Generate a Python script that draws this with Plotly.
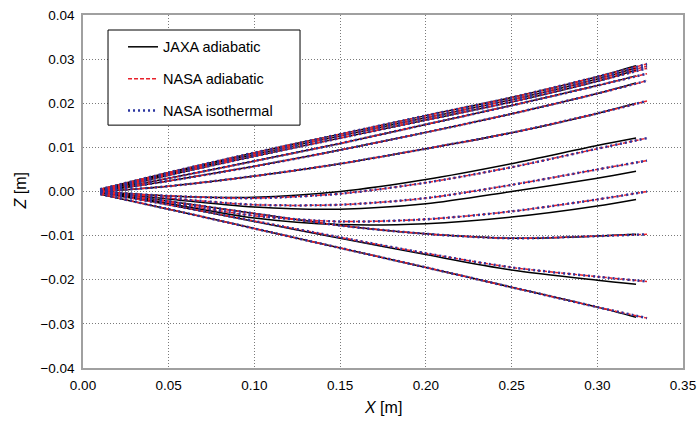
import plotly.graph_objects as go

# Axial stations [m] at which the trajectories are sampled
x_nasa = [0.01, 0.05, 0.10, 0.15, 0.20, 0.25, 0.30, 0.329]
x_jaxa = [0.01, 0.05, 0.10, 0.15, 0.20, 0.25, 0.30, 0.3226]

# Vertical position Z [m] of each trajectory, NASA adiabatic
nasa_adiabatic_z = [
    [0.0005, 0.0043, 0.0088, 0.0130, 0.0172, 0.0213, 0.0260, 0.0289],
    [0.0003, 0.0040, 0.0084, 0.0126, 0.0167, 0.0208, 0.0255, 0.0284],
    [0.0001, 0.0037, 0.0080, 0.0121, 0.0162, 0.0203, 0.0250, 0.0279],
    [0.0000, 0.0030, 0.0069, 0.0109, 0.0152, 0.0195, 0.0240, 0.0267],
    [0.0000, 0.0024, 0.0057, 0.0094, 0.0134, 0.0176, 0.0222, 0.0251],
    [0.0000, 0.0012, 0.0035, 0.0063, 0.0097, 0.0133, 0.0177, 0.0205],
    [0.0000, -0.0010, -0.0015, -0.0005, 0.0020, 0.0055, 0.0097, 0.0121],
    [0.0000, -0.0015, -0.0030, -0.0030, -0.0015, 0.0015, 0.0050, 0.0070],
    [0.0000, -0.0025, -0.0055, -0.0068, -0.0063, -0.0045, -0.0018, 0.0000],
    [0.0000, -0.0022, -0.0050, -0.0077, -0.0096, -0.0106, -0.0101, -0.0097],
    [-0.0003, -0.0030, -0.0067, -0.0104, -0.0140, -0.0172, -0.0193, -0.0204],
    [-0.0006, -0.0040, -0.0084, -0.0128, -0.0172, -0.0217, -0.0262, -0.0287],
]

# NASA isothermal
nasa_isothermal_z = [
    [0.0005, 0.0043, 0.0088, 0.0130, 0.0172, 0.0213, 0.0260, 0.0289],
    [0.0003, 0.0040, 0.0084, 0.0126, 0.0167, 0.0208, 0.0255, 0.0284],
    [0.0001, 0.0037, 0.0080, 0.0121, 0.0162, 0.0203, 0.0250, 0.0279],
    [0.0000, 0.0030, 0.0069, 0.0109, 0.0152, 0.0195, 0.0240, 0.0267],
    [0.0000, 0.0024, 0.0057, 0.0094, 0.0134, 0.0176, 0.0222, 0.0251],
    [0.0000, 0.0012, 0.0035, 0.0063, 0.0097, 0.0133, 0.0177, 0.0205],
    [0.0000, -0.0010, -0.0015, -0.0005, 0.0020, 0.0055, 0.0097, 0.0121],
    [0.0000, -0.0015, -0.0030, -0.0030, -0.0015, 0.0015, 0.0050, 0.0070],
    [0.0000, -0.0025, -0.0055, -0.0068, -0.0063, -0.0045, -0.0018, 0.0000],
    [0.0000, -0.0022, -0.0050, -0.0077, -0.0096, -0.0106, -0.0101, -0.0097],
    [-0.0003, -0.0030, -0.0067, -0.0104, -0.0140, -0.0172, -0.0193, -0.0204],
    [-0.0006, -0.0040, -0.0084, -0.0128, -0.0172, -0.0217, -0.0262, -0.0287],
]

# JAXA adiabatic
jaxa_adiabatic_z = [
    [0.0005, 0.0043, 0.0088, 0.0130, 0.0172, 0.0213, 0.0260, 0.0285],
    [0.0003, 0.0040, 0.0084, 0.0126, 0.0167, 0.0208, 0.0255, 0.0280],
    [0.0001, 0.0037, 0.0080, 0.0121, 0.0162, 0.0203, 0.0250, 0.0275],
    [0.0000, 0.0030, 0.0069, 0.0109, 0.0152, 0.0195, 0.0240, 0.0262],
    [0.0000, 0.0024, 0.0057, 0.0094, 0.0134, 0.0176, 0.0222, 0.0246],
    [0.0000, 0.0012, 0.0035, 0.0063, 0.0097, 0.0133, 0.0177, 0.0200],
    [0.0000, -0.0010, -0.0013, 0.0000, 0.0027, 0.0063, 0.0104, 0.0121],
    [0.0000, -0.0017, -0.0035, -0.0040, -0.0028, 0.0000, 0.0030, 0.0046],
    [0.0000, -0.0027, -0.0060, -0.0075, -0.0073, -0.0058, -0.0033, -0.0018],
    [0.0000, -0.0022, -0.0050, -0.0077, -0.0096, -0.0106, -0.0101, -0.0097],
    [-0.0003, -0.0030, -0.0068, -0.0106, -0.0143, -0.0178, -0.0201, -0.0210],
    [-0.0006, -0.0040, -0.0084, -0.0128, -0.0172, -0.0217, -0.0262, -0.0285],
]

series = [
    ("JAXA adiabatic", x_jaxa, jaxa_adiabatic_z, dict(color="#000000", width=1.5, dash="solid")),
    ("NASA adiabatic", x_nasa, nasa_adiabatic_z, dict(color="#e8202a", width=1.5, dash="4px,2px")),
    ("NASA isothermal", x_nasa, nasa_isothermal_z, dict(color="#2b35a0", width=2.5, dash="2px,3px")),
]

fig = go.Figure()
for name, xs, zs, line in series:
    for i, z in enumerate(zs):
        fig.add_trace(go.Scatter(
            x=xs, y=z, mode="lines", name=name, legendgroup=name,
            showlegend=(i == 0), line=dict(shape="spline", smoothing=0.8, **line),
        ))

axis_common = dict(
    showline=True, linecolor="#a0a0a0", linewidth=1.5, mirror=True,
    showgrid=True, gridcolor="#7a7a7a", griddash="1px,2px", gridwidth=1,
    zeroline=False, ticks="", tickfont=dict(size=13.5, color="#000"),
    automargin=False,
)

fig.update_layout(
    width=699, height=421,
    margin=dict(l=83, r=16, t=15, b=53),
    paper_bgcolor="white", plot_bgcolor="white",
    font=dict(family="Liberation Sans, Arial, sans-serif", color="#000", size=13.5),
    xaxis=dict(range=[0, 0.35], dtick=0.05, tickformat=".2f", ticklabelstandoff=4,
               **axis_common),
    yaxis=dict(range=[-0.04, 0.04], dtick=0.01, tickformat=".2f", ticklabelstandoff=4,
               **axis_common),
    annotations=[
        dict(text="<i>X</i> [m]", xref="paper", yref="paper", x=0.5, y=-0.113,
             xanchor="center", yanchor="middle", showarrow=False, font=dict(size=16)),
        dict(text="<i>Z</i> [m]", xref="paper", yref="paper", x=-0.105, y=0.5,
             xanchor="center", yanchor="middle", showarrow=False, textangle=-90,
             font=dict(size=16)),
    ],
    # legend frame drawn as a shape so the entries get generous padding
    shapes=[dict(type="rect", xref="paper", yref="paper",
                 x0=0.0417, x1=0.3617, y0=0.688, y1=0.9575,
                 line=dict(color="#000", width=1), fillcolor="white", layer="above")],
    legend=dict(x=0.0667, y=0.955, xanchor="left", yanchor="top",
                bgcolor="rgba(0,0,0,0)", borderwidth=0,
                font=dict(size=14.5), tracegroupgap=10, itemwidth=30),
)

fig.write_html("out.html")
